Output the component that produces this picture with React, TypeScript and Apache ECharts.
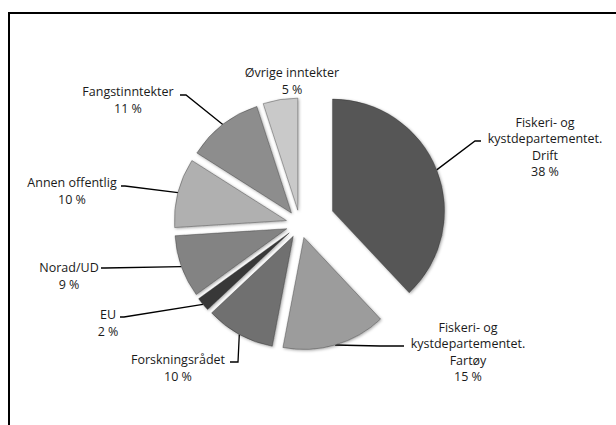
import React, { useEffect, useRef } from "react";
import * as echarts from "echarts";

// Data (clockwise from 12 o'clock)
const categories: string[] = [
  "Fiskeri- og\nkystdepartementet.\nDrift",
  "Fiskeri- og\nkystdepartementet.\nFartøy",
  "Forskningsrådet",
  "EU",
  "Norad/UD",
  "Annen offentlig",
  "Fangstinntekter",
  "Øvrige inntekter",
];
const shares: number[] = [38, 15, 10, 2, 9, 10, 11, 5];
const colors: string[] = [
  "#575757",
  "#9c9c9c",
  "#6f6f6f",
  "#383838",
  "#838383",
  "#b0b0b0",
  "#8d8d8d",
  "#c9c9c9",
];
const bigExplode = 0; // slice pulled further out

// geometry / style
const CX = 300;
const CY = 224;
const R = 112;
const OFFSET_SMALL = 14;
const OFFSET_BIG = 35;
const FONT = "'Open Sans', 'Noto Sans', sans-serif";

// label layout (style only): label centre and leader-line bend/end points
const labelLayout: { x: number; y: number; line: number[][] | null }[] = [
  { x: 545, y: 147, line: [[475, 141], [481, 141]] },
  { x: 468, y: 352, line: [[380, 346], [404, 346]] },
  { x: 178, y: 368, line: [[238, 362], [230, 362]] },
  { x: 108, y: 323, line: [[124, 317], [120, 317]] },
  { x: 69, y: 276, line: [[105, 268], [101, 268]] },
  { x: 72, y: 191, line: [[125, 186], [121, 186]] },
  { x: 128, y: 100, line: [[186, 95], [180, 95]] },
  { x: 292, y: 81, line: null },
];

function buildSeries(visible: (i: number) => boolean, offset: number) {
  return {
    type: "pie",
    center: [CX, CY],
    radius: R,
    startAngle: 90,
    clockwise: true,
    selectedMode: "multiple",
    selectedOffset: offset,
    silent: true,
    label: { show: false },
    labelLine: { show: false },
    data: categories.map((name, i) => {
      const vis = visible(i);
      return {
        name,
        value: shares[i],
        selected: true,
        itemStyle: vis
          ? {
              color: colors[i],
              borderColor: "rgba(40,40,40,0.6)",
              borderWidth: 0.6,
              shadowBlur: 3,
              shadowColor: "rgba(0,0,0,0.35)",
              shadowOffsetX: 1,
              shadowOffsetY: 1,
            }
          : { color: "rgba(0,0,0,0)", borderWidth: 0 },
      };
    }),
  };
}

function buildLabels() {
  const total = shares.reduce((a, b) => a + b, 0);
  const els: any[] = [];
  let cum = 0;
  shares.forEach((v, i) => {
    const mid = ((cum + v / 2) / total) * Math.PI * 2; // clockwise from top
    cum += v;
    const off = i === bigExplode ? OFFSET_BIG : OFFSET_SMALL;
    const px = CX + (R + off) * Math.sin(mid);
    const py = CY - (R + off) * Math.cos(mid);
    const L = labelLayout[i];
    if (L.line) {
      els.push({
        type: "polyline",
        silent: true,
        shape: { points: [[px, py], L.line[0], L.line[1]] },
        style: { stroke: "#000", lineWidth: 1.3, fill: "none" },
      });
    }
    els.push({
      type: "text",
      silent: true,
      x: L.x,
      y: L.y,
      style: {
        text: `${categories[i]}\n${v} %`,
        align: "center",
        verticalAlign: "middle",
        fontFamily: FONT,
        fontSize: 12.5,
        lineHeight: 16.5,
        fill: "#1a1a1a",
      },
    });
  });
  return els;
}

export default function App() {
  const ref = useRef<HTMLDivElement>(null);
  useEffect(() => {
    if (!ref.current) return;
    const chart = echarts.init(ref.current, undefined, { renderer: "svg" });
    chart.setOption({
      animation: false,
      backgroundColor: "#ffffff",
      graphic: [
        {
          type: "line",
          silent: true,
          shape: { x1: 8, y1: 13, x2: 616, y2: 13 },
          style: { stroke: "#000", lineWidth: 2 },
        },
        {
          type: "line",
          silent: true,
          shape: { x1: 9, y1: 12, x2: 9, y2: 425 },
          style: { stroke: "#000", lineWidth: 2 },
        },
        ...buildLabels(),
      ],
      series: [
        buildSeries((i) => i !== bigExplode, OFFSET_SMALL),
        buildSeries((i) => i === bigExplode, OFFSET_BIG),
      ],
    });
    return () => chart.dispose();
  }, []);
  return (
    <div
      ref={ref}
      style={{ position: "absolute", left: 0, top: 0, width: 616, height: 425 }}
    />
  );
}
